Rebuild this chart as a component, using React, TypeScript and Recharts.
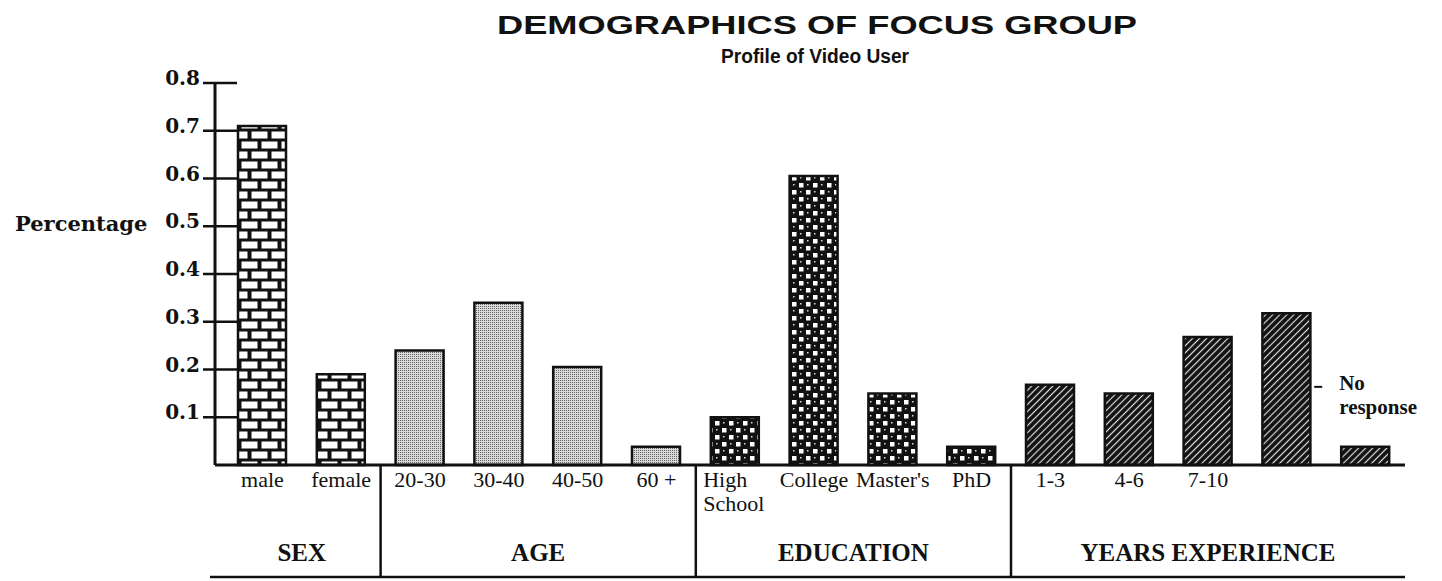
import React from 'react';
import { BarChart, Bar, XAxis, YAxis, Cell, LabelList } from 'recharts';

// values (share of focus group)
const sexCategories = ['male', 'female'];
const sexValues = [0.71, 0.19];
const ageCategories = ['20-30', '30-40', '40-50', '60 +'];
const ageValues = [0.24, 0.34, 0.205, 0.038];
const educationCategories = ['High School', 'College', "Master's", 'PhD'];
const educationValues = [0.1, 0.605, 0.15, 0.038];
const experienceCategories = ['1-3', '4-6', '7-10', '10 +', 'No response'];
const experienceValues = [0.168, 0.15, 0.268, 0.318, 0.038];

const groupLabels = ['SEX', 'AGE', 'EDUCATION', 'YEARS EXPERIENCE'];
const yTicks = [0.1, 0.2, 0.3, 0.4, 0.5, 0.6, 0.7, 0.8];
const hiddenTicks = ['10 +', 'No response'];
const patternIds = ['brick', 'stipple', 'balls', 'hatch'];

const groupCats = [sexCategories, ageCategories, educationCategories, experienceCategories];
const groupVals = [sexValues, ageValues, educationValues, experienceValues];

const data = groupCats.flatMap((cats, g) =>
  cats.map((name, i) => ({ name, value: groupVals[g][i], group: g, first: i === 0, size: cats.length }))
);

const W = 1442;
const H = 581;
const PLOT_LEFT = 215;
const PLOT_RIGHT = 1405;
const PAD_LEFT = 8;
const BOTTOM_Y = 577;
const band = (PLOT_RIGHT - PLOT_LEFT - PAD_LEFT) / data.length;

const serif = "'Liberation Serif', 'Times New Roman', serif";
const heavySerif = "'DejaVu Serif', serif";
const sans = "'Liberation Sans', Arial, sans-serif";
const ink = '#111';

const YTick = (props: any) => {
  const { x, y, payload } = props;
  return (
    <g>
      <line x1={x - 12} x2={x + 22} y1={y} y2={y} stroke={ink} strokeWidth={2.5} />
      <text x={x - 15} y={y + 2} textAnchor="end" fontFamily={heavySerif} fontWeight={700} fontSize={20} fill={ink}>
        {Number(payload.value).toFixed(1)}
      </text>
    </g>
  );
};

const XTick = (props: any) => {
  const { x, y, payload } = props;
  const row = data.find(d => d.name === payload.value);
  if (!row) return null;
  const start = x - band / 2;
  const lines = row.name === 'High School' ? ['High', 'School'] : [row.name];
  const multi = lines.length > 1;
  return (
    <g>
      {!hiddenTicks.includes(row.name) && (
        <text
          x={multi ? x - 32 : x}
          y={y + 22}
          textAnchor={multi ? 'start' : 'middle'}
          fontFamily={serif}
          fontSize={22}
          fill={ink}
        >
          {lines.map((l, i) => (
            <tspan key={l} x={multi ? x - 32 : x} dy={i === 0 ? 0 : 24}>
              {l}
            </tspan>
          ))}
        </text>
      )}
      {row.first && row.group > 0 && (
        <line x1={start} x2={start} y1={y} y2={BOTTOM_Y + 1} stroke={ink} strokeWidth={2.5} />
      )}
      {row.first && (
        <text
          x={start + (row.size * band) / 2}
          y={561}
          textAnchor="middle"
          fontFamily={serif}
          fontWeight={700}
          fontSize={25}
          fill={ink}
        >
          {groupLabels[row.group]}
        </text>
      )}
    </g>
  );
};

const NoResponseLabel = (props: any) => {
  const { x, y, value } = props;
  if (value !== 'No response') return null;
  return (
    <g>
      <line x1={x - 27} x2={x - 19} y1={y - 60} y2={y - 60} stroke={ink} strokeWidth={2} />
      <text x={x - 2} y={y - 57} fontFamily={serif} fontWeight={700} fontSize={21} fill={ink}>No</text>
      <text x={x - 2} y={y - 33} fontFamily={serif} fontWeight={700} fontSize={21} fill={ink}>response</text>
    </g>
  );
};

export default function App() {
  return (
    <div style={{ position: 'absolute', left: 0, top: 0, width: W, height: H, background: '#fff' }}>
      <BarChart width={W} height={H} data={data} margin={{ top: 83, right: W - PLOT_RIGHT, bottom: 0, left: 0 }}>
        <defs>
          <pattern id="brick" patternUnits="userSpaceOnUse" width={20} height={20}>
            <rect width={20} height={20} fill={ink} />
            <rect x={1.5} y={1.5} width={16} height={7} fill="#fff" />
            <rect x={11.5} y={11.5} width={16} height={7} fill="#fff" />
            <rect x={-8.5} y={11.5} width={16} height={7} fill="#fff" />
          </pattern>
          <pattern id="stipple" patternUnits="userSpaceOnUse" width={2} height={2}>
            <rect width={2} height={2} fill="#d9d9d9" />
            <rect width={1} height={1} fill="#666" />
          </pattern>
          <pattern id="balls" patternUnits="userSpaceOnUse" width={14} height={14}>
            <rect width={14} height={14} fill={ink} />
            <rect x={1} y={1} width={4.5} height={4.5} fill="#fff" />
            <rect x={8} y={8} width={4.5} height={4.5} fill="#fff" />
            <rect x={9} y={2} width={1.5} height={1.5} fill="#ddd" />
            <rect x={2} y={9} width={1.5} height={1.5} fill="#ddd" />
          </pattern>
          <pattern id="hatch" patternUnits="userSpaceOnUse" width={5} height={5} patternTransform="rotate(45)">
            <rect width={5} height={5} fill={ink} />
            <line x1={2.5} x2={2.5} y1={0} y2={5} stroke="#ddd" strokeWidth={1.2} />
          </pattern>
        </defs>

        <text x={817} y={34} textAnchor="middle" textLength={640} lengthAdjust="spacingAndGlyphs"
          fontFamily={sans} fontWeight={700} fontSize={26} fill={ink}>
          DEMOGRAPHICS OF FOCUS GROUP
        </text>
        <text x={815} y={63} textAnchor="middle" textLength={188} lengthAdjust="spacingAndGlyphs"
          fontFamily={sans} fontWeight={700} fontSize={20} fill={ink}>
          Profile of Video User
        </text>
        <text x={15} y={231} fontFamily={heavySerif} fontWeight={700} fontSize={21} fill={ink}>
          Percentage
        </text>
        <line x1={PLOT_LEFT - 5} x2={PLOT_RIGHT} y1={BOTTOM_Y} y2={BOTTOM_Y} stroke={ink} strokeWidth={2.5} />

        <XAxis
          dataKey="name"
          height={H - 465}
          interval={0}
          padding={{ left: PAD_LEFT, right: 0 }}
          tickLine={false}
          tickSize={0}
          tickMargin={0}
          axisLine={{ stroke: ink, strokeWidth: 3 }}
          tick={<XTick />}
        />
        <YAxis
          width={PLOT_LEFT}
          domain={[0, 0.8]}
          ticks={yTicks}
          tickLine={false}
          tickSize={0}
          tickMargin={0}
          axisLine={{ stroke: ink, strokeWidth: 3 }}
          tick={<YTick />}
        />
        <Bar dataKey="value" barSize={48} isAnimationActive={false} stroke={ink} strokeWidth={2.5}>
          {data.map((d, i) => (
            <Cell key={`cell-${i}`} fill={`url(#${patternIds[d.group]})`} stroke={ink} strokeWidth={2.5} />
          ))}
          <LabelList dataKey="name" content={<NoResponseLabel />} />
        </Bar>
      </BarChart>
    </div>
  );
}
